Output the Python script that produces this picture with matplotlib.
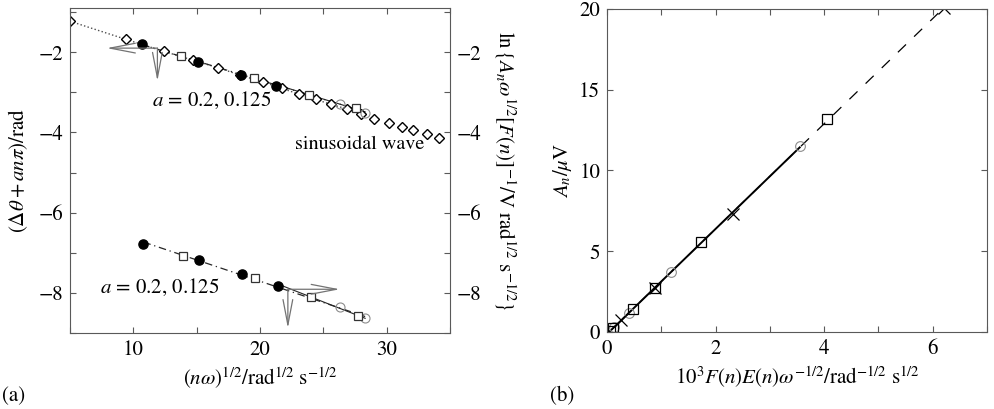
import numpy as np
import matplotlib
matplotlib.use('Agg')
import matplotlib.pyplot as plt
from matplotlib.ticker import MultipleLocator

plt.rcParams['font.family'] = ['STIXGeneral', 'DejaVu Serif']
plt.rcParams['mathtext.fontset'] = 'stix'
plt.rcParams['font.size'] = 14

# panel (a): sinusoidal wave (diamonds)
sin_x = [5.0, 9.4, 12.4, 14.7, 16.7, 18.4, 20.2, 21.7, 23.1, 24.4, 25.6, 26.9,
         28.0, 29.0, 30.2, 31.2, 32.1, 33.2, 34.1]
sin_y = [-1.23, -1.68, -1.98, -2.20, -2.39, -2.57, -2.74, -2.90, -3.05, -3.18,
         -3.30, -3.42, -3.54, -3.66, -3.77, -3.86, -3.95, -4.03, -4.14]

# panel (a) upper set (right axis)
up_dot_x = [10.7, 15.1, 18.5, 21.3]
up_dot_y = [-1.80, -2.24, -2.57, -2.84]
up_sq_x = [13.8, 19.5, 23.9, 27.6]
up_sq_y = [-2.10, -2.65, -3.07, -3.40]
up_ci_x = [26.3, 28.3]
up_ci_y = [-3.29, -3.51]

# panel (a) lower set (left axis)
lo_dot_x = [10.8, 15.2, 18.6, 21.4]
lo_dot_y = [-6.77, -7.19, -7.54, -7.84]
lo_sq_x = [13.9, 19.6, 24.0, 27.7]
lo_sq_y = [-7.07, -7.64, -8.11, -8.58]
lo_ci_x = [26.3, 28.3]
lo_ci_y = [-8.36, -8.63]

# panel (b)
b_cross_x = [6.21, 2.33, 0.89, 0.26]
b_cross_y = [20.05, 7.3, 2.75, 0.74]
b_sq_x = [4.05, 1.73, 0.89, 0.47, 0.11, 0.05]
b_sq_y = [13.2, 5.55, 2.75, 1.4, 0.25, 0.05]
b_ci_x = [3.55, 1.17, 0.41, 0.13]
b_ci_y = [11.5, 3.7, 1.2, 0.3]

W, H = 995, 409
fig = plt.figure(figsize=(W / 100, H / 100), dpi=100)
ax = fig.add_axes([70 / W, 1 - 333 / H, 380 / W, 325 / H])
bx = fig.add_axes([607 / W, 1 - 332 / H, 380 / W, 323 / H])

spine_col = '0.35'


def style_axes(a):
    for s in a.spines.values():
        s.set_color(spine_col)
        s.set_linewidth(0.8)
    a.tick_params(which='both', direction='in', length=4, width=0.8,
                  color=spine_col, top=True, labelsize=15, pad=5)


def fit_line(a, xs, ys, x0, x1, **kw):
    k, c = np.polyfit(xs, ys, 1)
    xx = np.array([x0, x1])
    a.plot(xx, k * xx + c, **kw)


# ---- panel (a)
style_axes(ax)
ax.set_xlim(5, 35)
ax.set_ylim(-9, -0.9)
ax.xaxis.set_major_locator(MultipleLocator(10))
ax.xaxis.set_minor_locator(MultipleLocator(5))
ax.yaxis.set_major_locator(MultipleLocator(2))
ax.yaxis.set_minor_locator(MultipleLocator(1))
ax.tick_params(which='both', right=False)

lc = '0.15'
ax.plot(sin_x[:13], sin_y[:13], ':', color='0.3', lw=1.0)
fit_line(ax, up_dot_x + up_sq_x, up_dot_y + up_sq_y, 10.7, 27.6,
         ls=(0, (6, 3, 1, 3)), color=lc, lw=0.9)
fit_line(ax, up_sq_x[2:] + up_ci_x, up_sq_y[2:] + up_ci_y, 21.3, 28.3,
         ls='-', color=lc, lw=0.8)
fit_line(ax, lo_dot_x + lo_sq_x, lo_dot_y + lo_sq_y, 10.8, 28.3,
         ls=(0, (6, 3, 1, 3)), color=lc, lw=0.9)
fit_line(ax, lo_sq_x[2:] + lo_ci_x, lo_sq_y[2:] + lo_ci_y, 21.4, 28.3,
         ls='-', color=lc, lw=0.8)

ax.plot(sin_x, sin_y, 'D', ms=5, mfc='white', mec='black', mew=1.0)
for xs, ys in [(up_ci_x, up_ci_y), (lo_ci_x, lo_ci_y)]:
    ax.plot(xs, ys, 'o', ms=6.5, mfc='none', mec='0.55', mew=0.8)
for xs, ys in [(up_sq_x, up_sq_y), (lo_sq_x, lo_sq_y)]:
    ax.plot(xs, ys, 's', ms=6.2, mfc='white', mec='0.2', mew=0.9)
for xs, ys in [(up_dot_x, up_dot_y), (lo_dot_x, lo_dot_y)]:
    ax.plot(xs, ys, 'o', ms=6.6, color='black')

arr = dict(arrowstyle='->,head_length=1.3,head_width=0.25', color='0.45',
           lw=0.9, shrinkA=0, shrinkB=0)
ax.annotate('', xy=(7.9, -1.9), xytext=(11.9, -1.9), arrowprops=arr)
ax.annotate('', xy=(11.9, -2.72), xytext=(11.9, -1.9), arrowprops=arr)
ax.annotate('', xy=(26.3, -7.91), xytext=(22.2, -7.91), arrowprops=arr)
ax.annotate('', xy=(22.2, -8.88), xytext=(22.2, -7.91), arrowprops=arr)

ax.text(16.2, -3.2, r'$a$ = 0.2, 0.125', ha='center', va='center', fontsize=15)
ax.text(12.1, -7.87, r'$a$ = 0.2, 0.125', ha='center', va='center', fontsize=15)
ax.text(22.8, -4.3, 'sinusoidal wave', ha='left', va='center', fontsize=14.5)

ax.set_xlabel(r'$(n\omega)^{1/2}/\mathrm{rad}^{1/2}\ \mathrm{s}^{-1/2}$',
              fontsize=15, labelpad=4)
ax.set_ylabel(r'$(\Delta\theta + an\pi)/\mathrm{rad}$', fontsize=15, labelpad=6)

ax2 = ax.twinx()
ax2.set_ylim(ax.get_ylim())
for s in ax2.spines.values():
    s.set_visible(False)
ax2.yaxis.set_major_locator(MultipleLocator(2))
ax2.yaxis.set_minor_locator(MultipleLocator(1))
ax2.tick_params(which='both', direction='in', length=4, width=0.8,
                color=spine_col, labelsize=15, pad=5)
ax2.set_ylabel(r'$\ln\{A_n\omega^{1/2}[F(n)]^{-1}/\mathrm{V\ rad}^{1/2}\ \mathrm{s}^{-1/2}\}$',
               rotation=270, fontsize=15, labelpad=26)

# ---- panel (b)
style_axes(bx)
bx.set_xlim(0, 7)
bx.set_ylim(0, 20)
bx.xaxis.set_major_locator(MultipleLocator(2))
bx.xaxis.set_minor_locator(MultipleLocator(1))
bx.yaxis.set_major_locator(MultipleLocator(5))
bx.tick_params(which='both', right=True)

k, c = np.polyfit(b_sq_x + b_cross_x, b_sq_y + b_cross_y, 1)
xx = np.array([0.0, b_cross_x[0]])
bx.plot(xx, k * xx + c, ls=(0, (9, 9)), color='black', lw=0.9)
xs = np.array([0.0, b_ci_x[0]])
bx.plot(xs, k * xs + c, '-', color='black', lw=1.4)

bx.plot(b_ci_x, b_ci_y, 'o', ms=7, mfc='none', mec='0.55', mew=0.8)
bx.plot(b_sq_x, b_sq_y, 's', ms=7, mfc='none', mec='black', mew=0.9)
bx.plot(b_cross_x, b_cross_y, 'x', ms=8, color='black', mew=0.9)

bx.set_xlabel(r'$10^3F(n)E(n)\omega^{-1/2}/\mathrm{rad}^{-1/2}\ \mathrm{s}^{1/2}$',
              fontsize=15, labelpad=4)
bx.set_ylabel(r'$A_n/\mu\mathrm{V}$', fontsize=15, labelpad=4)

fig.text(0.002, 0.03, '(a)', fontsize=15, ha='left', va='center')
fig.text(0.553, 0.03, '(b)', fontsize=15, ha='left', va='center')

fig.savefig('out.png', dpi=100)
